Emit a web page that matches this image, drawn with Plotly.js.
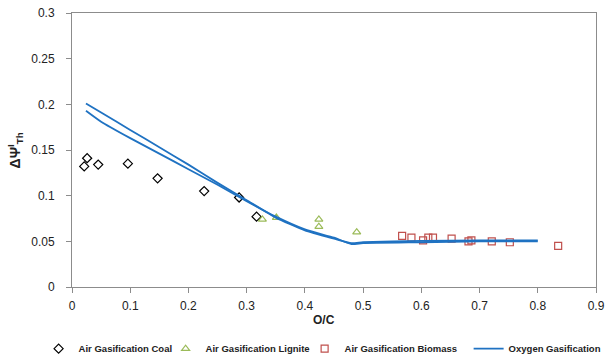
<!DOCTYPE html>
<html><head><meta charset="utf-8">
<script src="https://cdn.plot.ly/plotly-3.0.1.min.js"></script>
<style>body{margin:0;padding:0;background:#fff}#chart{width:607px;height:355px}</style>
</head><body><div id="chart"></div>
<script>
var coalX = [0.021, 0.026, 0.045, 0.096, 0.147, 0.227, 0.287, 0.317];
var coalY = [0.132, 0.141, 0.134, 0.135, 0.119, 0.105, 0.098, 0.077];
var ligniteX = [0.327, 0.351, 0.424, 0.424, 0.489];
var ligniteY = [0.074, 0.076, 0.074, 0.066, 0.060];
var biomassX = [0.567, 0.583, 0.603, 0.612, 0.620, 0.652, 0.681, 0.686, 0.721, 0.752, 0.835];
var biomassY = [0.056, 0.054, 0.051, 0.054, 0.054, 0.053, 0.050, 0.051, 0.050, 0.049, 0.045];
var oxyX = [0.024, 0.05, 0.1, 0.15, 0.2, 0.25, 0.3, 0.35, 0.4, 0.45, 0.48, 0.5, 0.6, 0.7, 0.8];
var oxyUpperY = [0.201, 0.191, 0.172, 0.153, 0.134, 0.114, 0.095, 0.076, 0.062, 0.053, 0.048, 0.049, 0.0505, 0.051, 0.051];
var oxyLowerY = [0.193, 0.181, 0.163, 0.146, 0.129, 0.112, 0.094, 0.077, 0.063, 0.054, 0.047, 0.048, 0.049, 0.050, 0.050];
var xTicks = [0, 0.1, 0.2, 0.3, 0.4, 0.5, 0.6, 0.7, 0.8, 0.9];
var yTicks = [0, 0.05, 0.1, 0.15, 0.2, 0.25, 0.3];

var blue = '#1f72c2';
var traces = [
  {x: coalX, y: coalY, type: 'scatter', mode: 'markers', name: 'Air Gasification Coal', legendwidth: 82,
   marker: {symbol: 'diamond-open', size: 7, color: '#000', line: {width: 1.2}}},
  {x: ligniteX, y: ligniteY, type: 'scatter', mode: 'markers', name: 'Air Gasification Lignite', legendwidth: 94,
   marker: {symbol: 'triangle-up-open', size: 7, color: '#9bbb59', line: {width: 1.2}}},
  {x: biomassX, y: biomassY, type: 'scatter', mode: 'markers', name: 'Air Gasification Biomass', legendwidth: 119,
   marker: {symbol: 'square-open', size: 7, color: '#c0504d', line: {width: 1.2}}},
  {x: oxyX, y: oxyUpperY, type: 'scatter', mode: 'lines', name: 'Oxygen Gasification', legendwidth: 92,
   line: {color: blue, width: 1.8, shape: 'spline', smoothing: 0.5}},
  {x: oxyX, y: oxyLowerY, type: 'scatter', mode: 'lines', name: 'Oxygen Gasification', showlegend: false,
   line: {color: blue, width: 1.8, shape: 'spline', smoothing: 0.5}}
];

var layout = {
  width: 607, height: 355,
  margin: {l: 72, r: 11, t: 13, b: 68, autoexpand: false},
  paper_bgcolor: '#fff', plot_bgcolor: '#fff',
  font: {family: 'Liberation Sans, Arial, sans-serif', size: 12, color: '#222'},
  showlegend: true,
  xaxis: {range: [0, 0.9], tickvals: xTicks, ticktext: xTicks.map(String), showgrid: false, zeroline: false,
    showline: true, linecolor: '#8c8c8c', linewidth: 1, mirror: true, ticks: 'outside', ticklen: 5,
    tickcolor: '#8c8c8c', ticklabelstandoff: 3},
  yaxis: {range: [0, 0.3], tickvals: yTicks, ticktext: yTicks.map(String), showgrid: false, zeroline: false,
    showline: true, linecolor: '#8c8c8c', linewidth: 1, mirror: true, ticks: 'outside', ticklen: 5,
    tickcolor: '#8c8c8c', ticklabelstandoff: 9},
  annotations: [
    {text: '<b>O/C</b>', xref: 'paper', yref: 'paper', x: 0.48, y: -0.12, xanchor: 'center', yanchor: 'middle',
     showarrow: false, font: {size: 12, color: '#222'}},
    {text: '<b>ΔΨ<sup>I</sup><sub>Th</sub></b>', xref: 'paper', yref: 'paper', x: -0.108, y: 0.5, xanchor: 'center', yanchor: 'middle',
     textangle: -90, showarrow: false, font: {size: 14, color: '#222'}}
  ],
  legend: {orientation: 'h', x: -0.0637, xanchor: 'left', y: -0.225, yanchor: 'middle',
    font: {size: 9.5, color: '#222', weight: 'bold'}, itemwidth: 30, tracegroupgap: 0, bgcolor: 'rgba(0,0,0,0)'}
};
Plotly.newPlot('chart', traces, layout, {displayModeBar: false, staticPlot: true});
</script></body></html>
